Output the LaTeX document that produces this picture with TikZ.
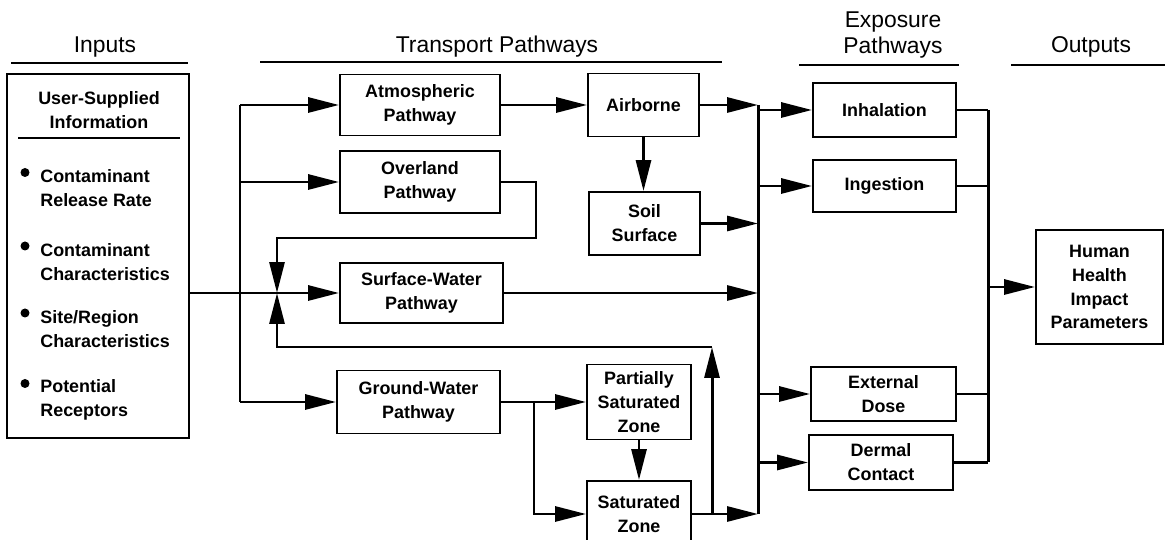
\documentclass[tikz,border=0pt]{standalone}
\usepackage{fontspec}
\setmainfont{Liberation Sans}
\usetikzlibrary{arrows.meta, positioning}

\newcommand{\boxfont}{\bfseries\fontsize{10.2}{13.6}\selectfont}
\newcommand{\headfont}{\fontsize{13}{14.4}\selectfont}

\begin{document}
\begin{tikzpicture}[
  x=0.02cm, y=-0.02cm,
  box/.style={draw=black, line width=1.1pt, align=center, inner sep=0pt, font=\boxfont},
  heading/.style={align=center, font=\headfont},
  item/.style={align=left, anchor=west, inner sep=0pt, font=\boxfont},
  flow/.style={line width=1.7pt, -{Triangle[length=0.62cm, width=0.3cm]}},
  wire/.style={line width=1.7pt},
  rule/.style={line width=1.1pt},
]
\useasboundingbox (0,0) rectangle (1167,540);

\node[heading] (inputshead) at (105,47) {Inputs};
\node[heading] (transhead) at (497,47) {Transport Pathways};
\node[heading] (expohead) at (893,35) {Exposure\\Pathways};
\node[heading] (outhead) at (1091,47) {Outputs};
\draw[rule] (11,63) -- (188,63);
\draw[rule] (260,62) -- (722,62);
\draw[rule] (799,65) -- (959,65);
\draw[rule] (1011,65) -- (1165,65);

\node[box, minimum width=3.64cm, minimum height=7.28cm] (inputs) at (98,256) {};
\node[align=center, font=\boxfont] (userinfo) at (99,110) {User-Supplied\\Information};
\draw[rule] (18,138) -- (180,138);
\foreach \i/\y/\txt in {1/188.5/{Contaminant\\Release Rate},
                        2/262/{Contaminant\\Characteristics},
                        3/329/{Site/Region\\Characteristics},
                        4/399.5/{Potential\\Receptors}} {
  \node[item] (item\i) at (40,\y) {\txt};
  \fill (25,\y-16) circle (4.5);
}

\node[box, minimum width=3.2cm, minimum height=1.22cm] (atmos) at (420,105) {Atmospheric\\Pathway};
\node[box, minimum width=3.2cm, minimum height=1.24cm] (overland) at (420,182) {Overland\\Pathway};
\node[box, minimum width=3.26cm, minimum height=1.2cm] (surface) at (421.5,293) {Surface-Water\\Pathway};
\node[box, minimum width=3.26cm, minimum height=1.26cm] (ground) at (418.5,402) {Ground-Water\\Pathway};
\node[box, minimum width=2.22cm, minimum height=1.26cm] (airborne) at (643.5,105) {Airborne};
\node[box, minimum width=2.22cm, minimum height=1.26cm] (soil) at (644.5,223.5) {Soil\\Surface};
\node[box, minimum width=2.08cm, minimum height=1.5cm] (partial) at (639,402) {Partially\\Saturated\\Zone};
\node[box, minimum width=2.08cm, minimum height=1.32cm] (saturated) at (639,514) {Saturated\\Zone};

\node[box, minimum width=2.86cm, minimum height=1.08cm] (inhal) at (884.5,110) {Inhalation};
\node[box, minimum width=2.86cm, minimum height=1.04cm] (ingest) at (884.5,186) {Ingestion};
\node[box, minimum width=2.9cm, minimum height=1.08cm] (extdose) at (883.5,394) {External\\Dose};
\node[box, minimum width=2.88cm, minimum height=1.1cm] (dermal) at (881,462.5) {Dermal\\Contact};
\node[box, minimum width=2.54cm, minimum height=2.28cm] (human) at (1099.5,287) {Human\\Health\\Impact\\Parameters};

\coordinate (lbus) at (240,0);
\coordinate (jn) at (277,293);
\coordinate (ovr) at (536,238);
\coordinate (gwb) at (534,0);
\coordinate (gwr) at (712,347);
\coordinate (rbus) at (758,0);
\coordinate (obus) at (988,0);

\draw[flow] (surface.west -| inputs.east) -- (surface.west);
\draw[wire] (lbus |- atmos.west) -- (lbus |- ground.west);
\draw[flow] (lbus |- atmos.west) -- (atmos.west);
\draw[flow] (lbus |- overland.west) -- (overland.west);
\draw[flow] (lbus |- ground.west) -- (ground.west);

\draw[flow] (overland.east) -| (ovr) -| (jn);
\draw[flow] (saturated.east -| gwr) -- (gwr);
\draw[flow] (gwr) -| (jn);

\draw[flow] (atmos.east) -- (airborne.west);
\draw[flow] (airborne.south) -- (airborne.south |- soil.north);
\draw[flow] (ground.east) -- (partial.west);
\draw[flow] (gwb |- ground.east) |- (saturated.west);
\draw[flow] (partial.south) -- (partial.south |- saturated.north);

\draw[wire] (rbus |- airborne.east) -- (rbus |- saturated.east);
\draw[flow] (airborne.east) -- (rbus |- airborne.east);
\draw[flow] (soil.east) -- (rbus |- soil.east);
\draw[flow] (surface.east) -- (rbus |- surface.east);
\draw[flow] (saturated.east) -- (rbus |- saturated.east);

\draw[flow] (rbus |- inhal.west) -- (inhal.west);
\draw[flow] (rbus |- ingest.west) -- (ingest.west);
\draw[flow] (rbus |- extdose.west) -- (extdose.west);
\draw[flow] (rbus |- dermal.west) -- (dermal.west);

\draw[wire] (obus |- inhal.east) -- (obus |- dermal.east);
\draw[wire] (inhal.east) -- (obus |- inhal.east);
\draw[wire] (ingest.east) -- (obus |- ingest.east);
\draw[wire] (extdose.east) -- (obus |- extdose.east);
\draw[wire] (dermal.east) -- (obus |- dermal.east);
\draw[flow] (obus |- human.west) -- (human.west);
\end{tikzpicture}
\end{document}
